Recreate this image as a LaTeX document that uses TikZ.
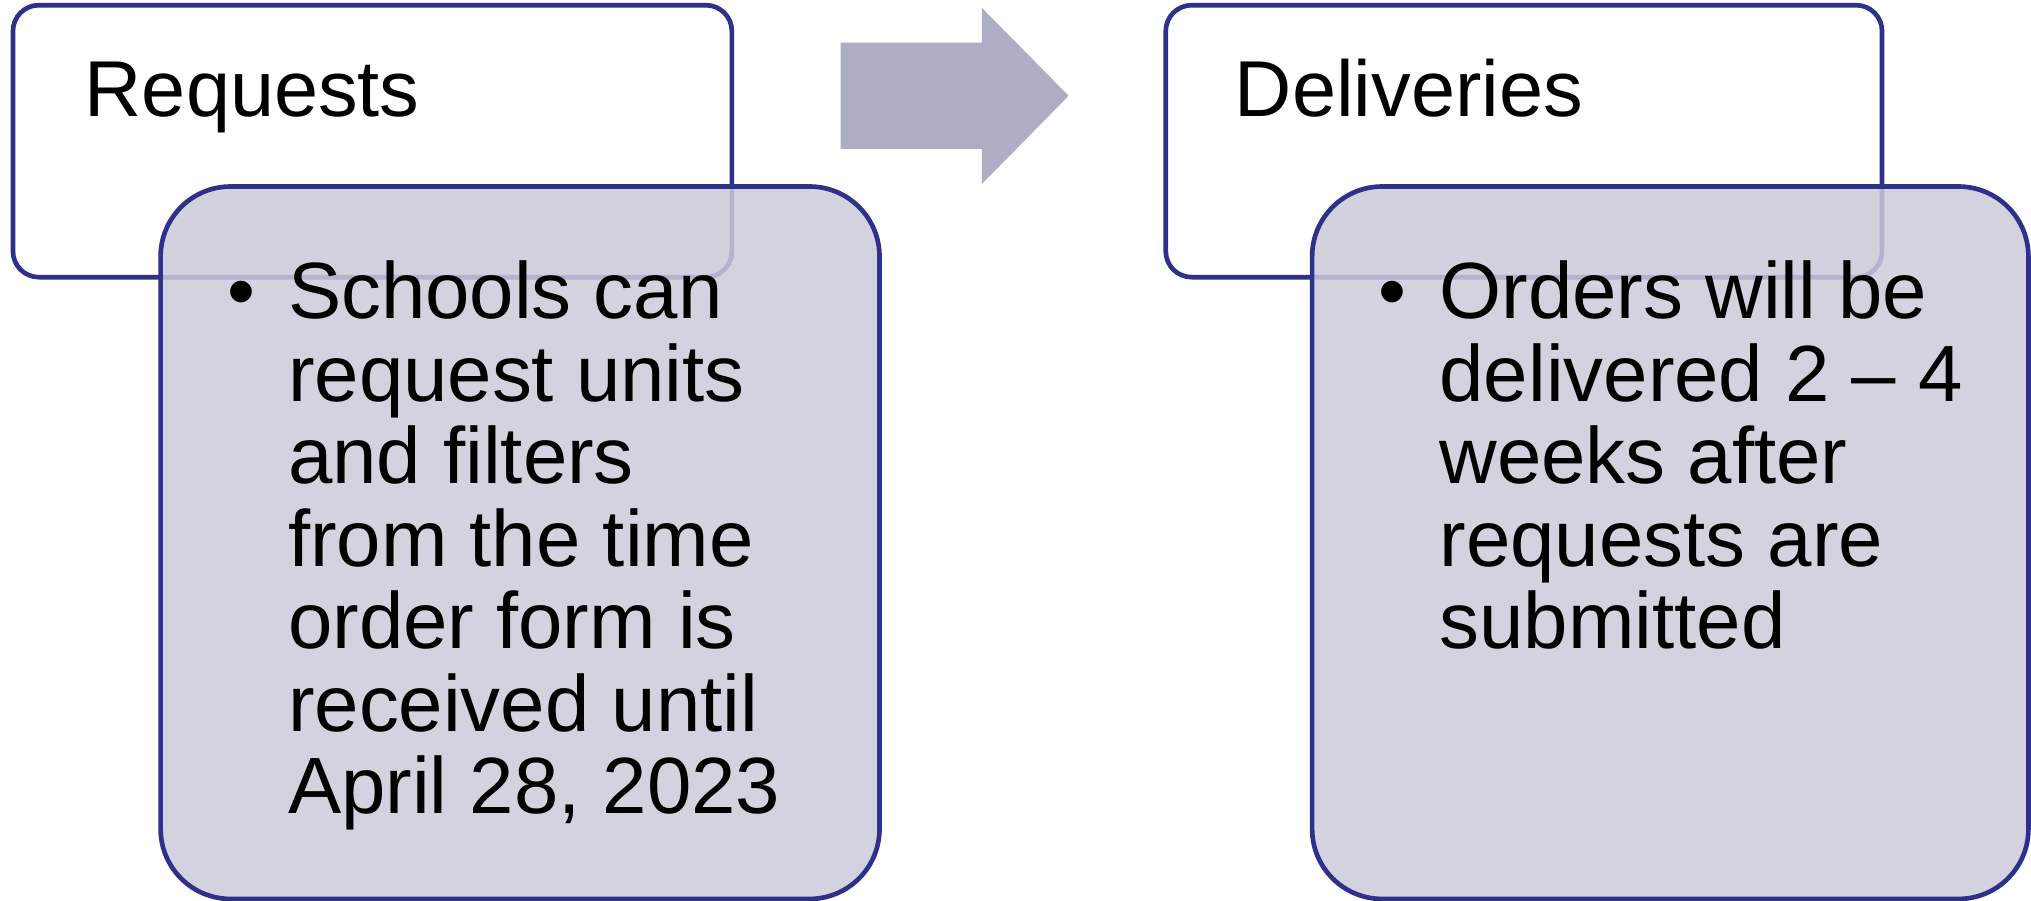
\documentclass[tikz,border=0pt]{standalone}
\usepackage{fontspec}
\setmainfont{Liberation Sans}
\definecolor{bord}{RGB}{46,48,138}
\definecolor{bodyfill}{RGB}{202,203,217}
\definecolor{arrowfill}{RGB}{173,174,196}
\tikzset{
  hdrbox/.style={draw=bord, line width=1.8pt, fill=white, rounded corners=10pt},
  bodybox/.style={draw=bord, line width=1.8pt, fill=bodyfill, fill opacity=0.85, rounded corners=27pt},
  bigtext/.style={inner sep=0pt, anchor=base west, font=\fontsize{30.6}{31.85}\selectfont},
  bodytext/.style={inner sep=0pt, anchor=base west, font=\fontsize{30.8}{31.85}\selectfont},
}
\begin{document}
\begin{tikzpicture}[x=0.5pt,y=-0.5pt]
\useasboundingbox (0,0) rectangle (1568,695.6);
% left
\draw[hdrbox] (10,4) rectangle (565,214);
\node[bigtext] (reqtitle) at (65,90) {Requests};
\draw[bodybox] (124,144) rectangle (679,694);
\node[bodytext] (reqbullet) at (175,246) {\textbullet};
\node[bodytext] (reqtext) at (222,246) {\parbox[t]{300pt}{\raggedright Schools can\\ request units\\ and filters\\ from the time\\ order form is\\ received until\\ April 28, 2023}};
% arrow
\fill[arrowfill] (649,33) -- (758,33) -- (758,6) -- (825,74) -- (758,142) -- (758,115) -- (649,115) -- cycle;
% right
\draw[hdrbox] (900,4) rectangle (1453,214);
\node[bigtext] (deltitle) at (953,90) {Deliveries};
\draw[bodybox] (1013,144) rectangle (1566,694);
\node[bodytext] (delbullet) at (1064,246) {\textbullet};
\node[bodytext] (deltext) at (1111,246) {\parbox[t]{300pt}{\raggedright Orders will be\\ delivered 2 -- 4\\ weeks after\\ requests are\\ submitted}};
\end{tikzpicture}
\end{document}
